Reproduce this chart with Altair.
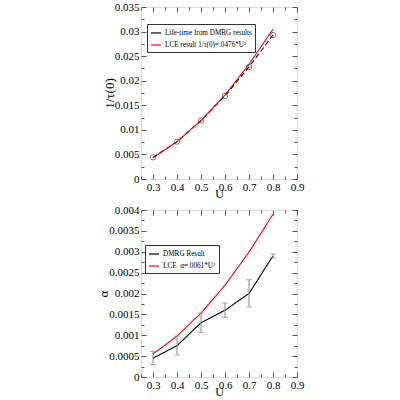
import altair as alt
import pandas as pd

# ---------------- data ----------------
U = [0.3, 0.4, 0.5, 0.6, 0.7, 0.8]
dmrg_rate = [0.0044, 0.0076, 0.0119, 0.0169, 0.0228, 0.0293]
lce_rate = [0.00428, 0.0076, 0.0119, 0.0171, 0.0233, 0.0305]

dmrg_alpha = [0.00045, 0.00075, 0.0013, 0.0016, 0.0020, 0.0029]
alpha_lo = [0.0003, 0.00053, 0.00107, 0.00143, 0.00168, 0.00285]
alpha_hi = [0.00061, 0.00098, 0.00153, 0.00177, 0.00233, 0.00295]
lce_alpha = [0.00055, 0.00098, 0.00153, 0.0022, 0.00299, 0.0039]

x_major = [0.3, 0.4, 0.5, 0.6, 0.7, 0.8, 0.9]
x_minor = [0.25, 0.35, 0.45, 0.55, 0.65, 0.75, 0.85]
top_major = [0, 0.005, 0.01, 0.015, 0.02, 0.025, 0.03, 0.035]
top_minor = [0.0025, 0.0075, 0.0125, 0.0175, 0.0225, 0.0275, 0.0325]
bot_major = [0, 0.0005, 0.001, 0.0015, 0.002, 0.0025, 0.003, 0.0035, 0.004]
bot_minor = [0.00025, 0.00075, 0.00125, 0.00175, 0.00225, 0.00275, 0.00325, 0.00375]

top_names = ["Life-time from DMRG results", "LCE result 1/\u03c4(0)=.0476*U\u00b2"]
bot_names = ["DMRG Result", "LCE\u00a0\u00a0\u03b1=.0061*U\u00b2"]

FONT = "Liberation Serif"
TICK = "#555555"
LBL = 11


def ax(orient, values, labels=False, title=None, major=True):
    size = 5 if major else 3
    kw = dict(orient=orient, values=values, labels=labels, offset=-size, tickSize=size,
              domain=False, grid=False, tickColor=TICK, labelFlush=False,
              labelOverlap=False, labelFont=FONT, labelFontSize=LBL, labelColor="black",
              format="~g", labelPadding=2, title=title)
    if title is not None:
        kw.update(titleFont=FONT, titleFontSize=13 if orient == "left" else 12,
                  titleFontWeight="normal", titleColor="black")
        kw.update(titlePadding=-2 if orient == "left" else -4)
    return alt.Axis(**kw)


def panel(df_l, df_p, ydomain, ymaj, ymin, ytitle, names, height, lx, ly, err=None):
    xs = alt.Scale(domain=[0.25, 0.9], nice=False, zero=False)
    ys = alt.Scale(domain=ydomain, nice=False, zero=False)
    color = alt.Color("series:N",
                      scale=alt.Scale(domain=names, range=["black", "red"]),
                      legend=alt.Legend(orient="none", legendX=lx, legendY=ly, title=None,
                                        symbolType="stroke", symbolSize=100, symbolStrokeWidth=1.2,
                                        labelFont=FONT, labelFontSize=7.2, labelColor="black",
                                        strokeColor="#333333", fillColor="white", padding=3,
                                        rowPadding=2, labelOffset=3))
    base = alt.Chart(df_l)
    main = base.mark_line(strokeWidth=1.1).encode(
        x=alt.X("U:Q", scale=xs, axis=ax("bottom", x_major, True, "U")),
        y=alt.Y("v:Q", scale=ys, axis=ax("left", ymaj, True, ytitle)),
        color=color,
        strokeDash=alt.StrokeDash("dash:N", scale=alt.Scale(domain=["s", "d"], range=[[1, 0], [5, 3]]), legend=None),
    )
    layers = [main]
    if err is not None:
        layers.append(alt.Chart(err).mark_errorbar(ticks=alt.TickConfig(size=6), color="#888888", thickness=1).encode(
            x=alt.X("U:Q", scale=xs, axis=None),
            y=alt.Y("lo:Q", scale=ys, axis=None, title=None),
            y2="hi:Q"))
    if df_p is not None:
        layers.append(alt.Chart(df_p).mark_point(shape="circle", filled=False, color="#333333", size=28, strokeWidth=0.9).encode(
            x=alt.X("U:Q", scale=xs, axis=None),
            y=alt.Y("v:Q", scale=ys, axis=None)))
    frame = alt.Chart(df_l)
    layers.append(frame.mark_point(opacity=0).encode(
        x=alt.X("U:Q", scale=xs, axis=ax("top", x_major)),
        y=alt.Y("v:Q", scale=ys, axis=ax("right", ymaj))))
    layers.append(frame.mark_point(opacity=0).encode(
        x=alt.X("U:Q", scale=xs, axis=ax("bottom", x_minor, major=False)),
        y=alt.Y("v:Q", scale=ys, axis=ax("left", ymin, major=False))))
    layers.append(frame.mark_point(opacity=0).encode(
        x=alt.X("U:Q", scale=xs, axis=ax("top", x_minor, major=False)),
        y=alt.Y("v:Q", scale=ys, axis=ax("right", ymin, major=False))))
    return alt.layer(*layers).resolve_axis(x="independent", y="independent").properties(width=156, height=height)


top_l = pd.DataFrame({
    "U": U + U,
    "v": dmrg_rate + lce_rate,
    "series": [top_names[0]] * 6 + [top_names[1]] * 6,
    "dash": ["d"] * 6 + ["s"] * 6,
})
top_p = pd.DataFrame({"U": U, "v": dmrg_rate})

bot_l = pd.DataFrame({
    "U": U + U,
    "v": dmrg_alpha + lce_alpha,
    "series": [bot_names[0]] * 6 + [bot_names[1]] * 6,
    "dash": ["s"] * 12,
})
bot_e = pd.DataFrame({"U": U, "lo": alpha_lo, "hi": alpha_hi})

top = panel(top_l, top_p, [0, 0.035], top_major, top_minor, "1/\u03c4(0)", top_names, 172, 6, 17)
bot = panel(bot_l, None, [0, 0.004], bot_major, bot_minor, "\u03b1", bot_names, 167, 4, 35, err=bot_e)

chart = alt.vconcat(top, bot, spacing=3).resolve_scale(color="independent", strokeDash="independent").properties(
    padding={"left": 97, "top": 0, "right": 5, "bottom": 0}
).configure_view(stroke="#444444", strokeWidth=1).configure(background="white")

chart.save("out.html", embed_options={"renderer": "svg", "actions": False})
